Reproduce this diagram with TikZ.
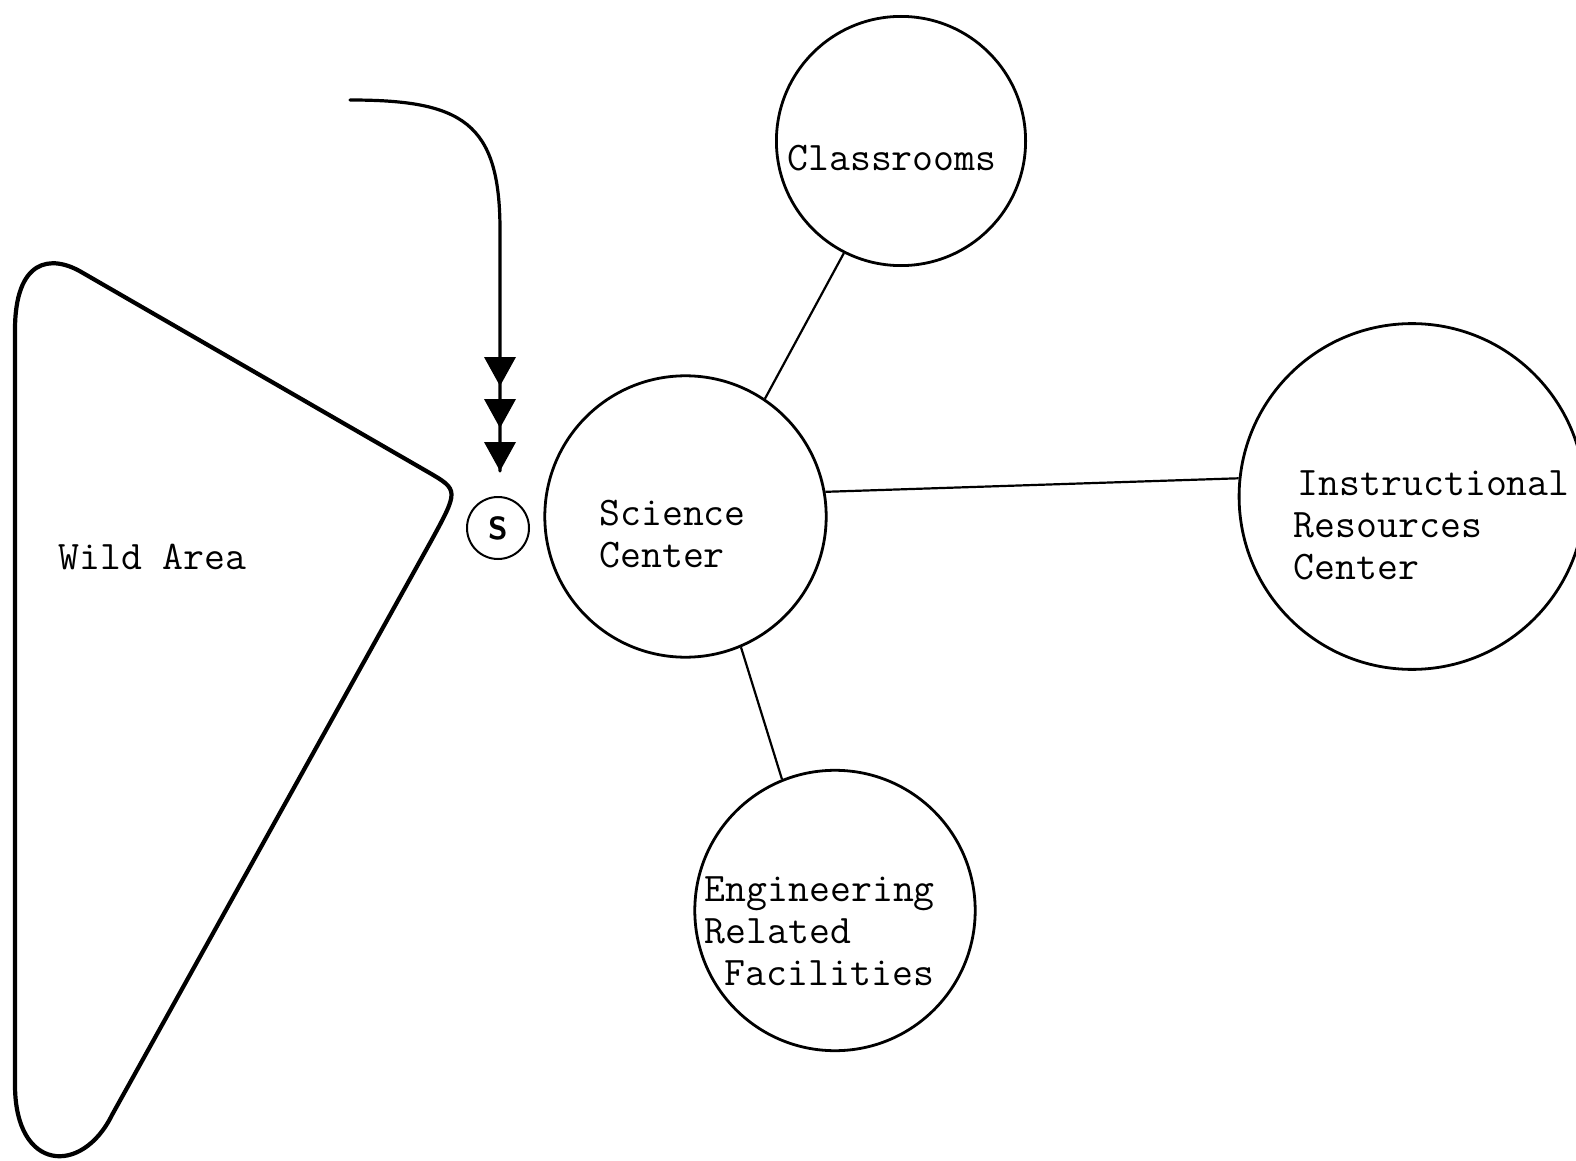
\documentclass[tikz,border=0pt]{standalone}
\usepackage{fontspec}
\begin{document}
\begin{tikzpicture}[x=0.5pt,y=-0.5pt,
  place/.style={circle,draw,line width=1.4pt,inner sep=0pt},
  lbl/.style={anchor=base west,inner sep=0pt,align=left,
    font=\ttfamily\fontsize{20.3}{20.8}\selectfont},
  link/.style={line width=1.1pt}]
\useasboundingbox (0,0) rectangle (1576,1161);

% buildings
\node[place,minimum size=124.6pt] (cls) at (901,141) {};
\node[place,minimum size=140.7pt] (sci) at (685.5,516.5) {};
\node[place,minimum size=140.2pt] (eng) at (835,910.5) {};
\node[place,minimum size=172.9pt] (irc) at (1412,496.5) {};
\node[place,minimum size=31pt,line width=1pt] (s) at (498,528) {};

\node[lbl] (clst) at (787,170) {Classrooms};
\node[lbl] (scit) at (599,567) {Science\\Center};
\node[lbl] (irct) at (1293.5,579) {\hspace*{2pt}Instructional\\Resources\\Center};
\node[lbl] (engt) at (704.5,985) {Engineering\\Related\\\hspace*{10pt}Facilities};
\node[font=\sffamily\bfseries\fontsize{16}{16}\selectfont,inner sep=0pt] (st) at (s) {S};

% links between buildings
\draw[link] (sci.56) -- (cls.243);
\draw[link] (sci.10) -- (irc.174);
\draw[link] (sci.-67) -- (eng.112);

% wild area outline
\draw[line width=2.1pt,line join=round] (15,330) -- (15,1085)
  .. controls (15,1172) and (82,1176) .. (112,1115)
  -- (430,543) .. controls (459,490) .. (428,472)
  -- (83,273) .. controls (50,253) and (15,260) .. (15,330) -- cycle;
\node[lbl] (wild) at (58,569) {Wild Area};

% approach path
\coordinate (from) at (350,100);
\coordinate (to) at (500,471);
\draw[line width=1.6pt,line cap=round] (from) .. controls (462,100) and (500,122) .. (500,230) -- (to);
\foreach \t in {357,399,442}
  \fill (484,\t) -- (516,\t) -- (500,\t+29) -- cycle;
\end{tikzpicture}
\end{document}
